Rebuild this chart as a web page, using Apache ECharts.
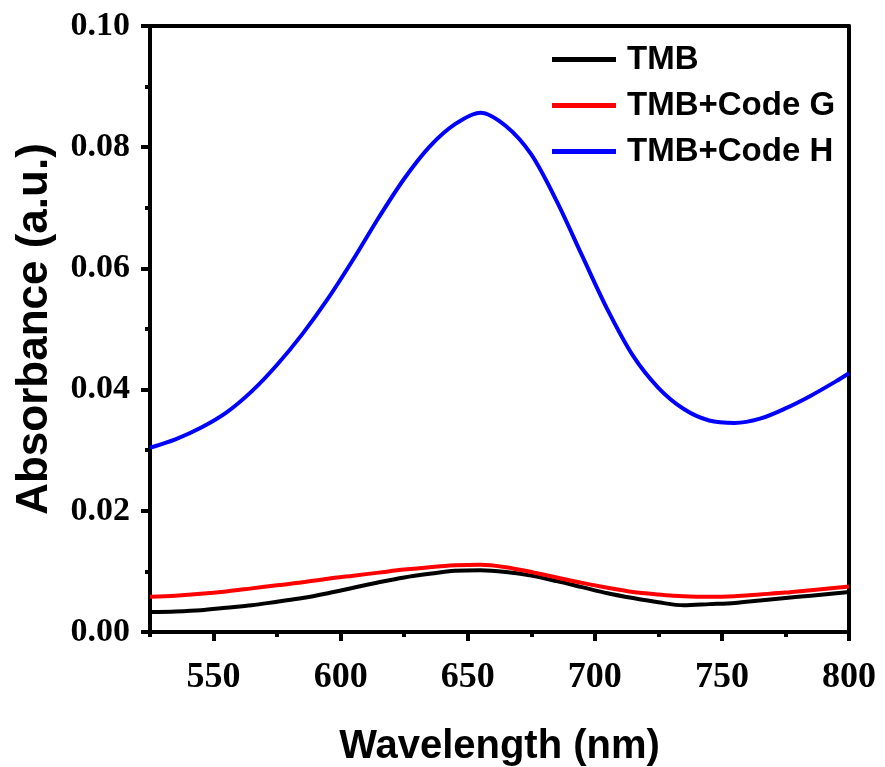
<!DOCTYPE html>
<html>
<head>
<meta charset="utf-8">
<script src="https://cdn.jsdelivr.net/npm/echarts@6/dist/echarts.min.js"></script>
<style>
    html, body { margin: 0; padding: 0; background: #fff; }
    #chart { width: 885px; height: 767px; }
</style>
</head>
<body>
<div id="chart"></div>
<script>
const wavelength = [525, 535, 545, 555, 565, 575, 585, 595, 605, 615, 625, 635, 645, 655, 665,
    675, 685, 695, 705, 715, 725, 735, 745, 755, 765, 775, 785, 795, 800];
const tmb = [0.0033, 0.0034, 0.0036, 0.0040, 0.0044, 0.0050, 0.0056, 0.0064, 0.0073, 0.0082,
    0.0090, 0.0096, 0.0101, 0.0102, 0.0099, 0.0093, 0.0084, 0.0074, 0.0064, 0.0056, 0.0049,
    0.0044, 0.0046, 0.0048, 0.0052, 0.0056, 0.0060, 0.0064, 0.0066];
const tmbCodeG = [0.0058, 0.0060, 0.0063, 0.0067, 0.0072, 0.0077, 0.0082, 0.0088, 0.0093, 0.0098,
    0.0103, 0.0107, 0.0110, 0.0111, 0.0107, 0.0099, 0.0090, 0.0081, 0.0073, 0.0066, 0.0062,
    0.0059, 0.0058, 0.0059, 0.0062, 0.0065, 0.0069, 0.0073, 0.0075];
const tmbCodeH = [0.0304, 0.0318, 0.0337, 0.0362, 0.0397, 0.0441, 0.0492, 0.0550, 0.0615, 0.0684,
    0.0748, 0.0801, 0.0838, 0.0857, 0.0835, 0.0788, 0.0711, 0.0621, 0.0532, 0.0456, 0.0403,
    0.0368, 0.0349, 0.0345, 0.0352, 0.0369, 0.0390, 0.0414, 0.0427];
const seriesNames = ["TMB", "TMB+Code G", "TMB+Code H"];
const seriesColors = ["#000000", "#ff0000", "#0000ff"];
const xMajorTicks = [550, 600, 650, 700, 750, 800];
const xMinorTicks = [525, 575, 625, 675, 725, 775];

const pairs = ys => wavelength.map((x, i) => [x, ys[i]]);

const SERIF = "'Liberation Serif', 'Times New Roman', serif";
const SANS = "'Liberation Sans', Arial, sans-serif";
const AXIS_LINE = { onZero: false, lineStyle: { color: "#000", width: 4 } };

const frameAxis = {
    show: true,
    axisLine: { show: true, onZero: false, lineStyle: { color: "#000", width: 4 } },
    axisTick: { show: false },
    axisLabel: { show: false },
    splitLine: { show: false }
};

const chart = echarts.init(document.getElementById("chart"));
chart.setOption({
    animation: false,
    grid: { left: 150, right: 36, top: 26, bottom: 135, outerBoundsMode: "none" },
    legend: {
        data: seriesNames,
        orient: "vertical",
        left: 547,
        top: 38,
        icon: "rect",
        itemWidth: 64,
        itemHeight: 5,
        itemGap: 13,
        textStyle: { fontFamily: SANS, fontWeight: "bold", fontSize: 33, color: "#000", padding: [0, 0, 0, 6] }
    },
    xAxis: [
        {
            type: "value",
            min: 525,
            max: 800,
            name: "Wavelength (nm)",
            nameLocation: "middle",
            nameGap: 95,
            nameTextStyle: { fontFamily: SANS, fontWeight: "bold", fontSize: 40, color: "#000" },
            axisLine: AXIS_LINE,
            axisTick: { show: true, length: 9, customValues: xMajorTicks, lineStyle: { width: 4, color: "#000" } },
            axisLabel: {
                margin: 28,
                customValues: xMajorTicks,
                fontFamily: SERIF,
                fontWeight: "bold",
                fontSize: 36,
                color: "#000"
            },
            splitLine: { show: false }
        },
        Object.assign({ type: "value", position: "top", min: 525, max: 800 }, frameAxis),
        {
            // short ticks between the labelled ones
            type: "value",
            position: "bottom",
            min: 525,
            max: 800,
            axisLine: { show: false },
            axisTick: { show: true, length: 5, customValues: xMinorTicks, lineStyle: { width: 4, color: "#000" } },
            axisLabel: { show: false },
            splitLine: { show: false }
        }
    ],
    yAxis: [
        {
            type: "value",
            min: 0,
            max: 0.1,
            interval: 0.02,
            name: "Absorbance (a.u.)",
            nameLocation: "middle",
            nameGap: 93,
            nameTextStyle: { fontFamily: SANS, fontWeight: "bold", fontSize: 44, color: "#000" },
            axisLine: AXIS_LINE,
            axisTick: { show: true, length: 9, lineStyle: { width: 4, color: "#000" } },
            minorTick: { show: true, splitNumber: 2, length: 5, lineStyle: { width: 4, color: "#000" } },
            axisLabel: {
                margin: 20,
                fontFamily: SERIF,
                fontWeight: "bold",
                fontSize: 34,
                color: "#000",
                formatter: v => v.toFixed(2)
            },
            splitLine: { show: false }
        },
        Object.assign({ type: "value", position: "right", min: 0, max: 0.1 }, frameAxis)
    ],
    series: [tmb, tmbCodeG, tmbCodeH].map((ys, i) => ({
        name: seriesNames[i],
        type: "line",
        data: pairs(ys),
        showSymbol: false,
        smooth: 0.3,
        color: seriesColors[i],
        lineStyle: { color: seriesColors[i], width: 4 },
        z: 3 + i
    }))
});
</script>
</body>
</html>
